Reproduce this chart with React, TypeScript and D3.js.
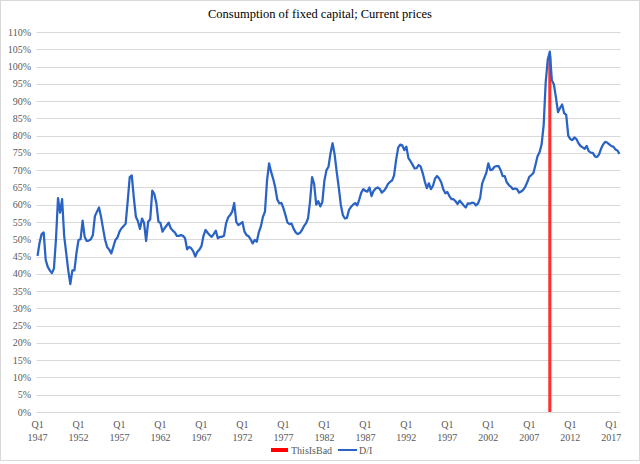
import React, { useEffect, useRef } from 'react';
import * as d3 from 'd3';

// D/I ratio, quarterly from Q1 1947
const diValues: number[] = [
  0.452, 0.49, 0.515, 0.52, 0.44, 0.42, 0.41, 0.402, 0.415, 0.5,
  0.619, 0.577, 0.616, 0.51, 0.46, 0.41, 0.37, 0.41, 0.41, 0.46,
  0.498, 0.5, 0.554, 0.507, 0.495, 0.496, 0.5, 0.512, 0.567, 0.58,
  0.592, 0.565, 0.53, 0.498, 0.477, 0.47, 0.459, 0.478, 0.498, 0.505,
  0.522, 0.532, 0.538, 0.545, 0.61, 0.68, 0.685, 0.62, 0.565, 0.552,
  0.53, 0.56, 0.547, 0.495, 0.551, 0.558, 0.641, 0.631, 0.604, 0.551,
  0.547, 0.522, 0.532, 0.54, 0.548, 0.532, 0.525, 0.52, 0.51, 0.51,
  0.512, 0.51, 0.503, 0.471, 0.478, 0.474, 0.465, 0.45, 0.464, 0.47,
  0.48, 0.51, 0.527, 0.519, 0.512, 0.507, 0.515, 0.525, 0.503, 0.507,
  0.507, 0.51, 0.546, 0.563, 0.57, 0.58, 0.605, 0.55, 0.541, 0.545,
  0.55, 0.522, 0.512, 0.509, 0.5, 0.488, 0.498, 0.493, 0.52, 0.537,
  0.565, 0.58, 0.67, 0.72, 0.695, 0.675, 0.65, 0.615, 0.604, 0.605,
  0.59, 0.57, 0.548, 0.544, 0.545, 0.53, 0.52, 0.515, 0.518, 0.526,
  0.538, 0.546, 0.56, 0.61, 0.68, 0.66, 0.6, 0.61, 0.595, 0.608,
  0.67, 0.7, 0.71, 0.75, 0.778, 0.745, 0.695, 0.65, 0.6, 0.57,
  0.56, 0.562, 0.585, 0.594, 0.6, 0.605, 0.598, 0.615, 0.635, 0.645,
  0.64, 0.638, 0.65, 0.625, 0.64, 0.647, 0.65, 0.646, 0.635, 0.64,
  0.648, 0.66, 0.666, 0.67, 0.685, 0.73, 0.765, 0.774, 0.772, 0.758,
  0.768, 0.735, 0.726, 0.716, 0.705, 0.706, 0.715, 0.71, 0.691, 0.667,
  0.648, 0.662, 0.645, 0.655, 0.676, 0.683, 0.676, 0.665, 0.645, 0.633,
  0.637, 0.625, 0.616, 0.616, 0.61, 0.602, 0.612, 0.605, 0.598, 0.592,
  0.604, 0.603, 0.606, 0.605, 0.598, 0.604, 0.62, 0.662, 0.677, 0.692,
  0.72, 0.7, 0.702, 0.71, 0.712, 0.712, 0.7, 0.683, 0.683, 0.665,
  0.657, 0.652, 0.645, 0.647, 0.645, 0.635, 0.638, 0.643, 0.652, 0.665,
  0.681, 0.686, 0.692, 0.715, 0.74, 0.752, 0.775, 0.83, 0.955, 1.02,
  1.043, 0.96, 0.948, 0.91, 0.868, 0.88, 0.89, 0.865, 0.86, 0.8,
  0.79, 0.787, 0.795, 0.79, 0.778, 0.77, 0.766, 0.762, 0.77, 0.755,
  0.751, 0.75, 0.74, 0.738, 0.745, 0.762, 0.774, 0.782, 0.78, 0.775,
  0.77, 0.768, 0.76, 0.757, 0.747,
];

const startYear = 1947;
const badQuarters = ['2009 Q3'];
const badValues = [1.03];
const yTicks = d3.range(0, 23).map(d => d * 0.05);
const labelYears = [1947, 1952, 1957, 1962, 1967, 1972, 1977, 1982, 1987, 1992, 1997, 2002, 2007, 2012, 2017];

const quarters = diValues.map((_, i) => `${startYear + Math.floor(i / 4)} Q${(i % 4) + 1}`);

const W = 640;
const H = 464;
const FONT = '"Liberation Serif", "DejaVu Serif", serif';

export default function App() {
  const svgRef = useRef<SVGSVGElement>(null);

  useEffect(() => {
    document.body.style.margin = '0';
    if (!svgRef.current) return;
    const svg = d3.select(svgRef.current);
    svg.selectAll('*').remove();

    const x = d3.scalePoint<string>().domain(quarters).range([36.5, 620.5]).padding(0.5);
    const step = x.step();
    const y = d3.scaleLinear().domain([0, 1.1]).range([412, 32]);

    // chart frame
    svg.append('rect')
      .attr('x', 0.5).attr('y', 0.5)
      .attr('width', W - 1).attr('height', 460)
      .attr('fill', '#fff').attr('stroke', '#d9d9d9');

    svg.append('text')
      .attr('x', 320).attr('y', 18)
      .attr('text-anchor', 'middle')
      .attr('font-family', FONT).attr('font-size', 12.5)
      .attr('fill', '#000')
      .text('Consumption of fixed capital; Current prices');

    // grid + y labels
    svg.append('g').selectAll('line').data(yTicks).join('line')
      .attr('x1', 36.5).attr('x2', 620.5)
      .attr('y1', d => Math.round(y(d)) + 0.5).attr('y2', d => Math.round(y(d)) + 0.5)
      .attr('stroke', '#d9d9d9').attr('stroke-width', 1);

    svg.append('g').selectAll('text').data(yTicks).join('text')
      .attr('x', 31).attr('y', d => y(d))
      .attr('dy', '0.35em')
      .attr('text-anchor', 'end')
      .attr('font-family', FONT).attr('font-size', 10)
      .attr('fill', '#595959')
      .text(d => `${Math.round(d * 100)}%`);

    // x labels
    const xl = svg.append('g').selectAll('text').data(labelYears).join('text')
      .attr('text-anchor', 'middle')
      .attr('font-family', FONT).attr('font-size', 10)
      .attr('fill', '#595959');
    xl.append('tspan')
      .attr('x', d => x(`${d} Q1`)!).attr('y', 428)
      .text('Q1');
    xl.append('tspan')
      .attr('x', d => x(`${d} Q1`)!).attr('y', 441)
      .text(d => String(d));

    // ThisIsBad columns
    svg.append('g').selectAll('rect').data(badQuarters).join('rect')
      .attr('x', d => x(d)! - step * 0.75)
      .attr('width', step * 1.5)
      .attr('y', (_, i) => y(badValues[i]))
      .attr('height', (_, i) => y(0) - y(badValues[i]))
      .attr('fill', '#ff3030');

    // D/I line
    const line = d3.line<number>()
      .x((_, i) => x(quarters[i])!)
      .y(d => y(d));

    svg.append('path')
      .datum(diValues)
      .attr('fill', 'none')
      .attr('stroke', '#2a63c6')
      .attr('stroke-width', 2.25)
      .attr('stroke-linejoin', 'round')
      .attr('d', line);

    // legend
    const lg = svg.append('g').attr('font-family', FONT).attr('font-size', 10).attr('fill', '#595959');
    lg.append('line').attr('x1', 271).attr('x2', 288).attr('y1', 450).attr('y2', 450)
      .attr('stroke', '#ff0000').attr('stroke-width', 4);
    lg.append('text').attr('x', 291).attr('y', 450).attr('dy', '0.35em').text('ThisIsBad');
    lg.append('line').attr('x1', 338).attr('x2', 357).attr('y1', 450).attr('y2', 450)
      .attr('stroke', '#2a63c6').attr('stroke-width', 2);
    lg.append('text').attr('x', 359).attr('y', 450).attr('dy', '0.35em').text('D/I');
  }, []);

  return <svg ref={svgRef} width={W} height={H} style={{ display: 'block' }} />;
}
